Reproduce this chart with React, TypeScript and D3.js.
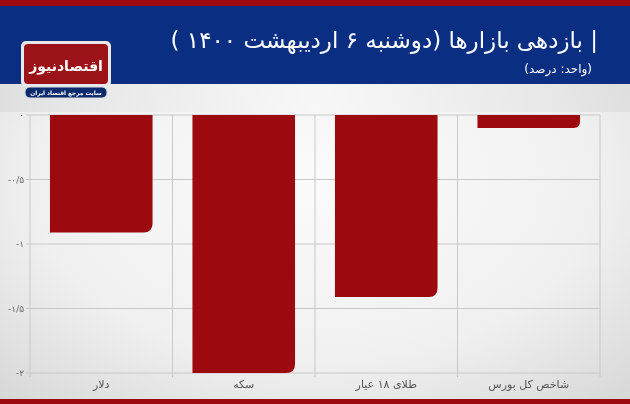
import React from "react";
import * as d3 from "d3";

const categories = ["دلار", "سکه", "طلای ۱۸ عیار", "شاخص کل بورس"];
const values = [-0.91, -2.0, -1.41, -0.1];
const tickValues = [0, -0.5, -1, -1.5, -2];
const tickLabels = ["۰", "-۰/۵", "-۱", "-۱/۵", "-۲"];
const title = "| بازدهی بازارها (دوشنبه ۶ اردیبهشت ۱۴۰۰ )";
const subtitle = "(واحد: درصد)";

const W = 630, H = 404;
const M = { left: 30, right: 600, top: 115, bottom: 373 };
const FONT = "'DejaVu Sans', sans-serif";
const RED = "#9c0a0f";

function barPath(x0: number, x1: number, y0: number, y1: number, r: number) {
  const rr = Math.min(r, (y1 - y0), (x1 - x0) / 2);
  return `M${x0},${y0} H${x1} V${y1 - rr} Q${x1},${y1} ${x1 - rr},${y1} H${x0} Z`;
}

export default function App() {
  const x = d3.scaleBand<string>().domain(categories).range([M.left, M.right]).paddingInner(0.28).paddingOuter(0.14);
  const y = d3.scaleLinear().domain([0, -2]).range([M.top, M.bottom]);
  const bandW = (M.right - M.left) / categories.length;
  const bounds = categories.map((_, i) => M.left + i * bandW);
  return (
    <div style={{ position: "fixed", left: 0, top: 0 }}>
      <svg width={W} height={H} style={{ display: "block" }}>
        <defs>
          <radialGradient id="bg" cx="0.5" cy="0.45" r="0.75">
            <stop offset="0" stopColor="#fbfbfb" />
            <stop offset="0.6" stopColor="#f0f0f0" />
            <stop offset="1" stopColor="#d6d6d6" />
          </radialGradient>
          <linearGradient id="band" x1="0" x2="1" y1="0" y2="0">
            <stop offset="0" stopColor="#d9d9d9" />
            <stop offset="0.5" stopColor="#f8f8f8" />
            <stop offset="1" stopColor="#d9d9d9" />
          </linearGradient>
        </defs>
        <rect x={0} y={0} width={W} height={H} fill="url(#bg)" />
        <rect x={0} y={84} width={W} height={28} fill="url(#band)" opacity={0.6} />
        <rect x={0} y={0} width={W} height={7} fill={RED} />
        <rect x={0} y={6} width={W} height={78} fill="#0a2f82" />
        <rect x={0} y={399} width={W} height={5} fill={RED} />

        <text x={598} y={48} textAnchor="start" fill="#fff" fontFamily={FONT} fontSize={23} direction="rtl">{title}</text>
        <text x={592} y={73} textAnchor="start" fill="#fff" fontFamily={FONT} fontSize={12} direction="rtl">{subtitle}</text>

        {/* logo */}
        <rect x={21} y={41} width={90} height={46} rx={5} fill="#e8e8e8" />
        <rect x={24} y={44} width={84} height={40} rx={4} fill="#9b1218" />
        <text x={66} y={71} textAnchor="middle" fill="#fff" fontFamily={FONT} fontSize={14} fontWeight="bold" direction="rtl">اقتصادنیوز</text>
        <rect x={25} y={87} width={82} height={11} rx={5} fill="#0a2a6e" stroke="#dcdcdc" strokeWidth={1} />
        <text x={66} y={95} textAnchor="middle" fill="#fff" fontFamily={FONT} fontSize={5.8} fontWeight="bold" direction="rtl">سایت مرجع اقتصاد ایران</text>

        {/* grid */}
        {tickValues.map((t) => (
          <line key={t} x1={M.left - 4} x2={M.right} y1={y(t)} y2={y(t)} stroke="#c8c8c8" strokeWidth={1} />
        ))}
        {bounds.concat([M.right]).map((b, i) => (
          <line key={i} x1={b} x2={b} y1={M.top} y2={M.bottom + 4} stroke="#c8c8c8" strokeWidth={1} />
        ))}

        {/* bars */}
        {categories.map((c, i) => {
          const x0 = x(c)!;
          const x1 = x0 + x.bandwidth();
          const r = Math.min(9, (y(values[i]) - y(0)) / 2);
          return <path key={c} d={barPath(x0, x1, y(0), y(values[i]), r)} fill={RED} />;
        })}

        {tickValues.map((t, i) => (
          <text key={t} x={24} y={y(t) + 3} textAnchor="end" fill="#666" fontFamily={FONT} fontSize={9}>{tickLabels[i]}</text>
        ))}
        {categories.map((c, i) => (
          <text key={c} x={bounds[i] + bandW / 2} y={388} textAnchor="middle" fill="#555" fontFamily={FONT} fontSize={11} direction="rtl">{c}</text>
        ))}
      </svg>
    </div>
  );
}
